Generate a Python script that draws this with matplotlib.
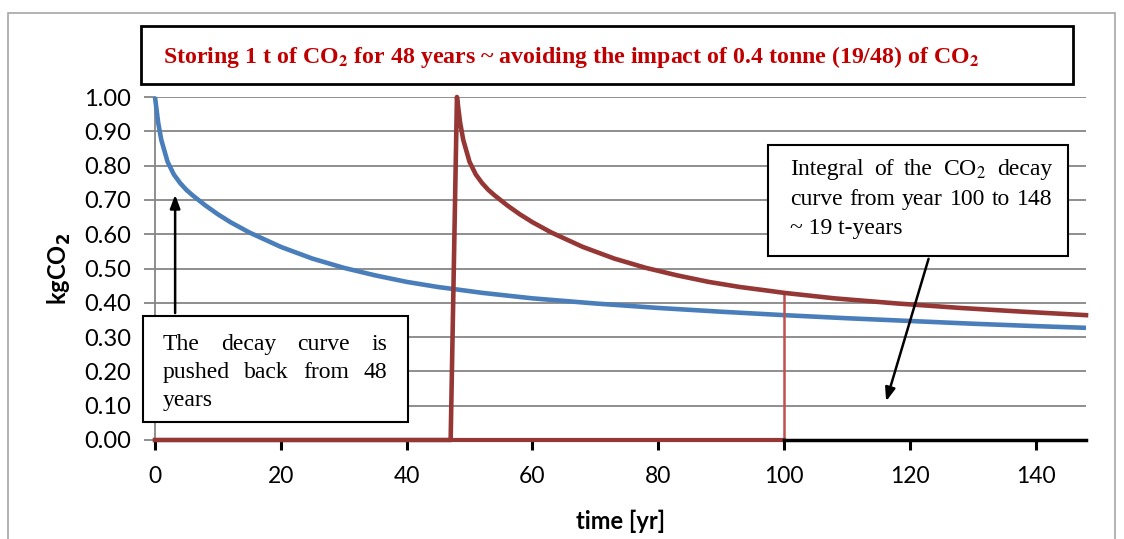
import numpy as np
import matplotlib.pyplot as plt
from matplotlib.patches import Rectangle

# CO2 decay curve (fraction remaining)
decay_years = [0, 0.5, 1, 2, 3, 4, 5, 6, 8, 10, 12, 15, 20, 25, 30, 35, 40, 45,
               50, 52, 55, 60, 70, 80, 90, 100, 110, 120, 130, 140, 148]
decay_values = [1.00, 0.926, 0.875, 0.811, 0.774, 0.749, 0.729, 0.713, 0.684, 0.658,
                0.635, 0.605, 0.563, 0.529, 0.502, 0.480, 0.461, 0.446, 0.434, 0.429,
                0.423, 0.413, 0.398, 0.385, 0.374, 0.364, 0.355, 0.347, 0.339, 0.332, 0.327]

storage_years = 48        # decay curve pushed back by 48 years
integral_start = 100      # integral taken from year 100 to 148
integral_end = 148

x_ticks = [0, 20, 40, 60, 80, 100, 120, 140]
y_ticks = [0.0, 0.1, 0.2, 0.3, 0.4, 0.5, 0.6, 0.7, 0.8, 0.9, 1.0]

W, H = 1124, 539
BLUE = '#4A7EBB'
DARKRED = '#953735'
RED = '#C0504D'
GRID = '#868686'

fig = plt.figure(figsize=(W / 100, H / 100), dpi=100)
ax = fig.add_axes([155 / W, 1 - 440 / H, (1086 - 155) / W, (440 - 97) / H])

def fx(x):
    return x / W

def fy(y):
    return 1 - y / H

# blue: original decay curve
dy = np.array(decay_years)
dv = np.array(decay_values)
ax.plot(dy, dv, color=BLUE, lw=3.3, zorder=3, solid_capstyle='butt')

# dark red: decay curve shifted by the storage period
keep = dy + storage_years <= integral_end
red_x = np.concatenate([[0, storage_years - 1], dy[keep] + storage_years])
red_y = np.concatenate([[0, 0], dv[keep]])
ax.plot(red_x, red_y, color=DARKRED, lw=3.3, zorder=4)
ax.plot([storage_years - 1, integral_start], [0, 0], color=DARKRED, lw=3, zorder=4)

# integral start marker and the remaining baseline
red_at_start = dv[list(dy + storage_years).index(integral_start)]
ax.plot([integral_start, integral_start], [0, red_at_start], color=RED, lw=1.8, zorder=3)
ax.plot([integral_start, integral_end], [0, 0], color='black', lw=2.5, zorder=4)

ax.set_xlim(0, 148)
ax.set_ylim(0, 1.0)
ax.set_xticks(x_ticks)
ax.set_yticks(y_ticks)
ax.set_yticklabels([f'{v:.2f}' for v in y_ticks])
for line in ax.lines:
    line.set_clip_on(False)

ax.grid(axis='y', color=GRID, lw=1.3)
ax.set_axisbelow(True)
for s in ['top', 'right']:
    ax.spines[s].set_visible(False)
ax.spines['left'].set_color(GRID)
ax.spines['left'].set_linewidth(1.3)
ax.spines['bottom'].set_color(GRID)
ax.spines['bottom'].set_linewidth(1.3)

ax.tick_params(axis='x', colors='black', length=7, width=2.2, pad=12,
               labelsize=16.5, direction='out')
ax.tick_params(axis='y', color=GRID, length=8, width=1.3, pad=9, labelsize=17)
for lab in ax.get_xticklabels() + ax.get_yticklabels():
    lab.set_fontfamily('Lato')

ax.set_xlabel('time [yr]', fontfamily='Lato', fontweight='bold', fontsize=17, labelpad=16)
ax.set_ylabel(r'kgCO$_\mathbf{2}$', fontfamily='Lato', fontweight='bold', fontsize=17,
              math_fontfamily='dejavusans', labelpad=8)

# figure border
fig.add_artist(Rectangle((fx(8), fy(560)), fx(1115 - 8), (560 - 13) / H,
                         transform=fig.transFigure, fill=False, ec='#A6A6A6', lw=1.2))

# title box
fig.add_artist(Rectangle((fx(141), fy(84)), fx(1073 - 141), (84 - 26) / H,
                         transform=fig.transFigure, fc='white', ec='black', lw=2, zorder=5))
fig.text(fx(163), fy(53), r'Storing 1 t of CO$_\mathbf{2}$ for 48 years ~ avoiding the impact of 0.4 tonne (19/48) of CO$_\mathbf{2}$',
         color='#C00000', fontfamily='Liberation Serif', fontweight='bold', fontsize=17.2,
         math_fontfamily='stix', va='center_baseline', ha='left', zorder=6)

# annotation boxes
fig.add_artist(Rectangle((fx(143), fy(422)), fx(408 - 143), (422 - 316) / H,
                         transform=fig.transFigure, fc='white', ec='black', lw=1.5, zorder=5))
fig.add_artist(Rectangle((fx(768), fy(256)), fx(1068 - 768), (256 - 145) / H,
                         transform=fig.transFigure, fc='white', ec='black', lw=1.5, zorder=5))

renderer = fig.canvas.get_renderer()

def justified(lines, x0, x1, ys, size=17):
    for i, (line, y) in enumerate(zip(lines, ys)):
        kw = dict(fontfamily='Liberation Serif', fontsize=size, math_fontfamily='stix',
                  va='center_baseline', ha='left', zorder=6)
        if i == len(lines) - 1:
            fig.text(fx(x0), fy(y), line, **kw)
            continue
        words = line.split(' ')
        texts = [fig.text(0, 0, w, **kw) for w in words]
        widths = [t.get_window_extent(renderer).width for t in texts]
        gap = (x1 - x0 - sum(widths)) / (len(words) - 1)
        x = x0
        for t, w in zip(texts, widths):
            t.set_position((fx(x), fy(y)))
            x += w + gap

justified(['The decay curve is', 'pushed back from 48', 'years'],
          163, 387, [342, 370, 398])
justified([r'Integral of the CO$_2$ decay', 'curve from year 100 to 148', '~ 19 t-years'],
          790, 1052, [167, 197, 226])

# arrows
ax.annotate('', xy=(3.2, 0.723), xytext=(3.2, 0.362),
            arrowprops=dict(arrowstyle='-|>,head_length=0.8,head_width=0.3',
                            color='black', lw=1.8), zorder=6)
ax.annotate('', xy=(116.1, 0.105), xytext=(123.1, 0.536),
            arrowprops=dict(arrowstyle='-|>,head_length=0.8,head_width=0.3',
                            color='black', lw=1.8), zorder=6)

fig.savefig('out.png', dpi=100)
